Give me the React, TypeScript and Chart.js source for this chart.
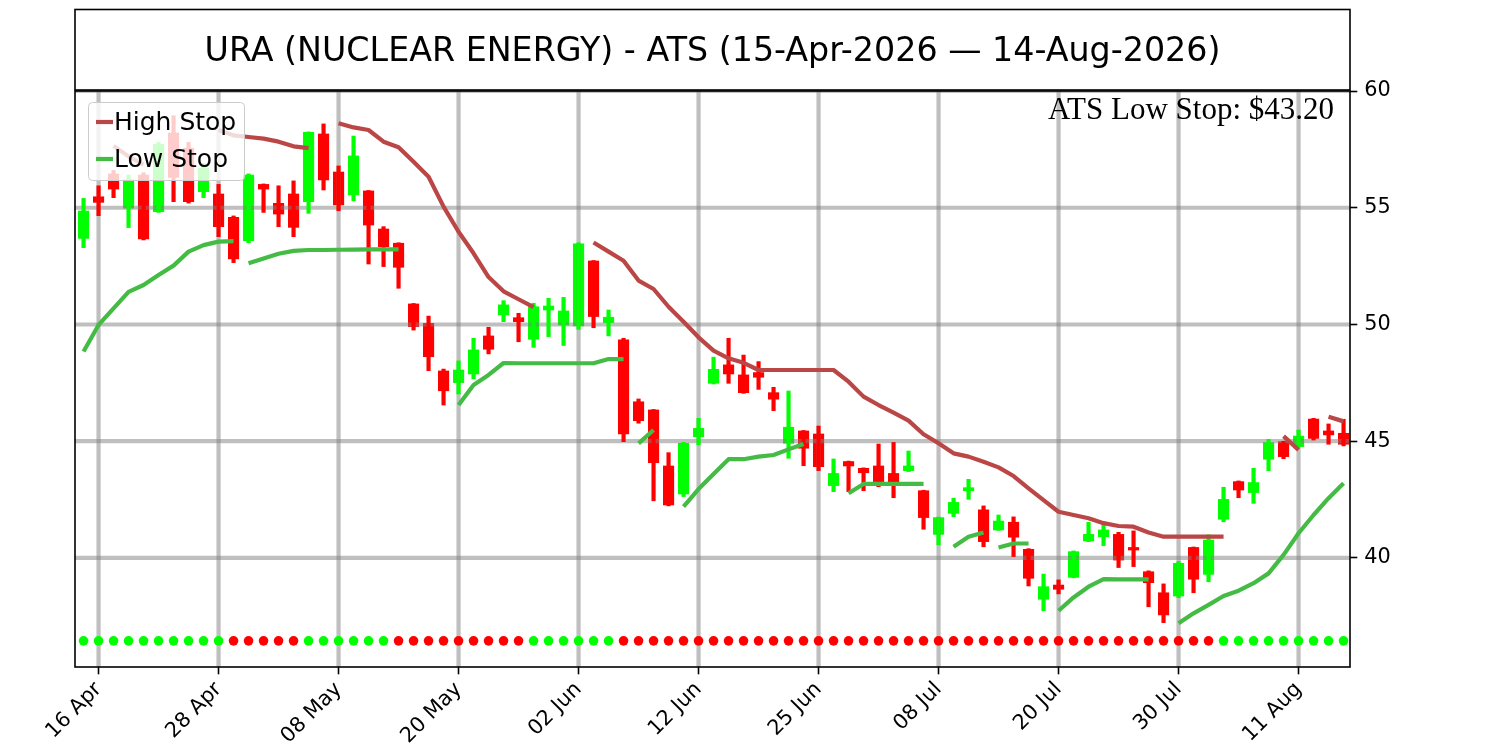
import { useEffect, useRef } from "react"
import { Chart, registerables } from "chart.js"

Chart.register(...registerables)
Chart.defaults.font.family = '"DejaVu Sans"'

const TITLE = "URA (NUCLEAR ENERGY) - ATS (15-Apr-2026 — 14-Aug-2026)"

// trading days, 15 Apr - 14 Aug 2026
const days = [
  "15 Apr", "16 Apr", "17 Apr", "20 Apr", "21 Apr", "22 Apr", "23 Apr", "24 Apr", "27 Apr", "28 Apr", "29 Apr", "30 Apr",
  "01 May", "04 May", "05 May", "06 May", "07 May", "08 May", "11 May", "12 May", "13 May", "14 May", "15 May", "18 May",
  "19 May", "20 May", "21 May", "22 May", "26 May", "27 May", "28 May", "29 May",
  "01 Jun", "02 Jun", "03 Jun", "04 Jun", "05 Jun", "08 Jun", "09 Jun", "10 Jun", "11 Jun", "12 Jun", "15 Jun", "16 Jun",
  "17 Jun", "18 Jun", "22 Jun", "23 Jun", "24 Jun", "25 Jun", "26 Jun", "29 Jun", "30 Jun",
  "01 Jul", "02 Jul", "06 Jul", "07 Jul", "08 Jul", "09 Jul", "10 Jul", "13 Jul", "14 Jul", "15 Jul", "16 Jul", "17 Jul",
  "20 Jul", "21 Jul", "22 Jul", "23 Jul", "24 Jul", "27 Jul", "28 Jul", "29 Jul", "30 Jul", "31 Jul",
  "03 Aug", "04 Aug", "05 Aug", "06 Aug", "07 Aug", "10 Aug", "11 Aug", "12 Aug", "13 Aug", "14 Aug",
]

// positions (in days) that carry a date label
const tickDays = [1, 9, 17, 25, 33, 41, 49, 57, 65, 73, 81]
const priceTicks = [40, 45, 50, 55, 60]

const open = [
  53.69, 55.47, 56.45, 54.98, 56.4, 54.83, 58.2, 57.55, 55.69, 55.59,
  54.59, 53.59, 56.0, 55.19, 55.59, 55.26, 58.16, 56.53, 55.55, 55.72,
  54.09, 53.48, 50.88, 50.05, 48.01, 47.51, 47.88, 49.51, 50.41, 50.29,
  49.37, 50.62, 49.98, 49.94, 52.72, 50.08, 49.34, 46.69, 46.34, 43.94,
  42.74, 45.19, 47.48, 48.27, 47.84, 47.94, 47.08, 44.91, 45.44, 45.31,
  43.1, 44.13, 43.84, 43.94, 43.62, 43.74, 42.88, 41.01, 41.91, 42.88,
  42.06, 41.2, 41.53, 40.37, 38.23, 38.84, 39.17, 40.73, 40.91, 41.01,
  40.45, 39.41, 38.51, 38.37, 40.45, 39.3, 41.66, 43.27, 42.8, 44.23,
  44.98, 44.77, 45.95, 45.44, 45.34,
]
const high = [
  55.4, 55.94, 56.6, 56.4, 56.5, 57.8, 58.94, 57.8, 56.9, 56.0,
  54.65, 56.45, 56.02, 55.94, 56.15, 58.25, 58.59, 56.79, 58.07, 55.74,
  54.19, 53.5, 50.9, 50.36, 48.09, 48.44, 49.41, 49.88, 51.02, 50.48,
  50.91, 51.12, 51.16, 53.5, 52.74, 50.62, 49.41, 46.81, 46.36, 44.51,
  44.95, 45.98, 48.6, 49.41, 48.69, 48.41, 47.31, 47.15, 45.46, 45.65,
  44.24, 44.15, 43.86, 44.88, 44.95, 44.58, 42.9, 41.75, 42.56, 43.37,
  42.23, 41.84, 41.76, 40.4, 39.31, 39.06, 40.3, 41.53, 41.46, 41.1,
  41.16, 39.45, 38.89, 39.85, 40.47, 40.99, 43.03, 43.3, 43.84, 45.08,
  45.0, 45.48, 45.98, 45.74, 45.94,
]
const low = [
  53.29, 54.66, 55.43, 54.15, 53.62, 54.8, 55.26, 55.2, 55.43, 53.76,
  52.65, 53.5, 54.8, 54.19, 53.76, 54.76, 55.76, 54.87, 55.3, 52.59,
  52.48, 51.55, 49.76, 48.02, 46.55, 47.02, 47.67, 48.74, 50.12, 49.26,
  49.02, 49.48, 49.1, 49.79, 49.86, 49.51, 44.98, 45.77, 42.45, 42.23,
  42.63, 44.84, 47.45, 47.48, 47.05, 47.22, 46.31, 44.27, 43.95, 43.74,
  42.84, 42.84, 42.88, 43.05, 42.58, 43.7, 41.23, 40.56, 41.77, 42.51,
  40.48, 41.18, 40.06, 38.8, 37.74, 38.46, 39.15, 40.7, 40.53, 39.59,
  39.63, 37.91, 37.23, 38.3, 38.51, 38.98, 41.55, 42.58, 42.34, 43.74,
  44.25, 44.75, 45.05, 44.87, 44.8,
]
const close = [
  54.86, 55.23, 55.8, 56.2, 53.66, 57.72, 56.3, 55.26, 56.69, 54.19,
  52.81, 56.4, 55.8, 54.73, 54.16, 58.23, 56.19, 55.12, 57.22, 54.26,
  53.33, 52.45, 49.91, 48.62, 47.16, 48.05, 48.91, 48.94, 50.84, 50.12,
  50.76, 50.79, 50.58, 53.45, 50.34, 50.31, 45.31, 45.88, 44.08, 42.27,
  44.91, 45.55, 48.08, 47.88, 47.08, 47.74, 46.8, 45.6, 44.7, 43.91,
  43.62, 43.94, 43.65, 43.27, 43.2, 43.94, 41.73, 41.73, 42.38, 43.01,
  40.7, 41.58, 40.89, 39.13, 38.77, 38.66, 40.27, 41.01, 41.2, 39.91,
  40.34, 38.94, 37.56, 39.77, 39.09, 40.77, 42.51, 42.91, 43.23, 44.94,
  44.34, 45.22, 45.12, 45.27, 44.87,
]

const highStop = [
  null, null, 57.65, 57.2, 56.85, null, null, null, null, 58.33,
  58.1, 58.03, 57.96, 57.83, 57.63, 57.55, null, 58.62, 58.44, 58.33,
  57.83, 57.59, 56.97, 56.33, 55.05, 53.97, 53.05, 52.03, 51.42, 51.08,
  50.74, null, null, null, 53.51, 53.12, 52.73, 51.88, 51.52, 50.76,
  50.12, 49.45, 48.88, 48.55, 48.36, 48.05, 48.05, 48.05, 48.05, 48.05,
  48.05, 47.55, 46.91, 46.55, 46.22, 45.88, 45.3, 44.91, 44.48, 44.34,
  44.12, 43.88, 43.51, 42.98, 42.48, 41.98, 41.84, 41.7, 41.49, 41.37,
  41.34, 41.09, 40.91, 40.91, 40.91, 40.91, 40.91, null, null, null,
  45.22, 44.63, null, 46.05, 45.85,
]
const lowStop = [
  48.84, 49.98, 50.69, 51.4, 51.69, 52.12, 52.52, 53.12, 53.4, 53.55,
  53.57, 52.62, 52.83, 53.03, 53.15, 53.19, 53.19, 53.2, 53.21, 53.22,
  53.22, 53.22, null, null, null, 46.55, 47.41, 47.84, 48.35, 48.34,
  48.34, 48.34, 48.34, 48.34, 48.34, 48.52, 48.52, 44.91, 45.48, null,
  42.2, 42.95, 43.6, 44.23, 44.23, 44.34, 44.41, 44.65, 44.88, null,
  null, 42.77, 43.17, 43.17, 43.17, 43.17, 43.17, null, 40.48, 40.91,
  41.09, 40.45, 40.62, 40.62, null, 37.74, 38.31, 38.77, 39.09, 39.08,
  39.08, 39.08, null, 37.2, 37.63, 37.99, 38.37, 38.6, 38.92, 39.34,
  40.13, 41.06, 41.84, 42.56, 43.2,
]
// a new low-stop segment starts on these days (no line joins them to the day before)
const lowStopBreaks = [11, 37, 61]

// 1 = up trend (green dot), -1 = down trend (red dot)
const trend = [
  1, 1, 1, 1, 1, 1, 1, 1, 1, 1,
  -1, -1, -1, -1, -1, 1, 1, 1, 1, 1,
  1, -1, -1, -1, -1, -1, -1, -1, -1, -1,
  1, 1, 1, 1, 1, 1, -1, -1, -1, -1,
  -1, -1, -1, -1, -1, -1, -1, -1, -1, -1,
  -1, -1, -1, -1, -1, -1, -1, -1, -1, -1,
  -1, -1, -1, -1, -1, -1, -1, -1, -1, -1,
  -1, -1, -1, -1, -1, -1, 1, 1, 1, 1,
  1, 1, 1, 1, 1,
]

const UP = "#00ff00"
const DOWN = "#ff0000"
const HIGH_COLOR = "#bb4646"
const LOW_COLOR = "#44bb44"
const DOT_ROW = 36.45

const linePoints = (values: (number | null)[], breaks: number[] = []) => {
  const pts: { x: number; y: number | null }[] = []
  values.forEach((v, i) => {
    if (breaks.includes(i)) pts.push({ x: i - 0.5, y: null })
    pts.push({ x: i, y: v })
  })
  return pts
}

const decor = {
  id: "decor",
  // grid sits above the candle bodies but under wicks, lines and dots
  afterDatasetDraw(chart: any, args: any) {
    if (args.index !== 0) return
    const { ctx, chartArea: a, scales } = chart
    ctx.save()
    ctx.beginPath()
    ctx.rect(a.left, a.top, a.width, a.height)
    ctx.clip()
    ctx.strokeStyle = "rgba(128,128,128,0.5)"
    ctx.lineWidth = 4.2
    for (const d of tickDays) {
      const x = scales.x.getPixelForValue(d)
      ctx.beginPath()
      ctx.moveTo(x, a.top)
      ctx.lineTo(x, a.bottom)
      ctx.stroke()
    }
    for (const v of priceTicks) {
      const y = scales.y.getPixelForValue(v)
      ctx.beginPath()
      ctx.moveTo(a.left, y)
      ctx.lineTo(a.right, y)
      ctx.stroke()
    }
    ctx.restore()
  },
  afterDraw(chart: any) {
    const { ctx, chartArea: a } = chart
    ctx.save()
    ctx.strokeStyle = "#000"
    ctx.lineWidth = 1.6
    ctx.strokeRect(a.left, a.top, a.width, a.height)
    ctx.strokeRect(a.left, 9.5, a.width, 80.5)

    ctx.fillStyle = "#000"
    ctx.font = '33.3px "DejaVu Sans"'
    ctx.textAlign = "center"
    ctx.textBaseline = "alphabetic"
    ctx.fillText(TITLE, (a.left + a.right) / 2, 61)

    ctx.font = '31px "Liberation Serif"'
    ctx.textAlign = "right"
    ctx.fillText(`ATS Low Stop: $${(lowStop[lowStop.length - 1] as number).toFixed(2)}`, a.right - 16, 119)

    // legend
    ctx.fillStyle = "rgba(255,255,255,0.8)"
    ctx.strokeStyle = "#cccccc"
    ctx.lineWidth = 1
    ctx.beginPath()
    ctx.roundRect(88.5, 102.5, 156, 78, 4)
    ctx.fill()
    ctx.stroke()
    const entries = [
      { label: "High Stop", color: HIGH_COLOR, y: 122 },
      { label: "Low Stop", color: LOW_COLOR, y: 159 },
    ]
    ctx.font = '25px "DejaVu Sans"'
    ctx.textAlign = "left"
    ctx.textBaseline = "middle"
    for (const e of entries) {
      ctx.strokeStyle = e.color
      ctx.lineWidth = 4.2
      ctx.beginPath()
      ctx.moveTo(96, e.y)
      ctx.lineTo(113, e.y)
      ctx.stroke()
      ctx.fillStyle = "#000"
      ctx.fillText(e.label, 114, e.y + 1)
    }
    ctx.restore()
  },
}

export default function App() {
  const canvasRef = useRef<HTMLCanvasElement>(null)
  const chartRef = useRef<Chart | null>(null)

  useEffect(() => {
    if (!canvasRef.current) return
    if (chartRef.current) chartRef.current.destroy()

    const idx = days.map((_, i) => i)
    const candleColors = idx.map((i) => (close[i] >= open[i] ? UP : DOWN))

    chartRef.current = new Chart(canvasRef.current, {
      type: "bar",
      data: {
        datasets: [
          {
            type: "bar",
            label: "body",
            data: idx.map((i) => ({ x: i, y: [open[i], close[i]] })),
            backgroundColor: candleColors,
            borderWidth: 0,
            barThickness: 10.5,
            grouped: false,
            order: 5,
          },
          {
            type: "bar",
            label: "wick",
            data: idx.map((i) => ({ x: i, y: [low[i], high[i]] })),
            backgroundColor: candleColors,
            borderWidth: 0,
            barThickness: 3.5,
            grouped: false,
            order: 4,
          },
          {
            type: "line",
            label: "Low Stop",
            data: linePoints(lowStop, lowStopBreaks),
            borderColor: LOW_COLOR,
            borderWidth: 4.2,
            pointRadius: 0,
            spanGaps: false,
            borderJoinStyle: "round",
            order: 3,
          },
          {
            type: "line",
            label: "High Stop",
            data: linePoints(highStop),
            borderColor: HIGH_COLOR,
            borderWidth: 4.2,
            pointRadius: 0,
            spanGaps: false,
            borderJoinStyle: "round",
            order: 2,
          },
          {
            type: "line",
            label: "trend",
            data: idx.map((i) => ({ x: i, y: DOT_ROW })),
            showLine: false,
            pointRadius: 4.8,
            pointBorderWidth: 0,
            pointBackgroundColor: trend.map((t) => (t > 0 ? UP : DOWN)),
            order: 1,
          },
        ] as any,
      },
      options: {
        animation: false,
        responsive: false,
        devicePixelRatio: 1,
        events: [],
        layout: { padding: { left: 75, top: 91, right: 0, bottom: 0 } },
        plugins: {
          legend: { display: false },
          tooltip: { enabled: false },
        },
        scales: {
          x: {
            type: "linear",
            min: -0.57,
            max: 84.43,
            offset: false,
            afterBuildTicks: (s: any) => {
              s.ticks = tickDays.map((v) => ({ value: v }))
            },
            afterFit: (s: any) => {
              s.height = 83
            },
            ticks: {
              autoSkip: false,
              minRotation: 45,
              maxRotation: 45,
              color: "#000",
              font: { size: 20.8 },
              padding: 3,
              callback: (v: any) => days[v],
            },
            grid: { drawOnChartArea: false, offset: false, tickLength: 7.3, tickColor: "#000", tickWidth: 1.6 },
            border: { display: false },
          },
          y: {
            type: "linear",
            position: "right",
            min: 35.33,
            max: 60,
            afterBuildTicks: (s: any) => {
              s.ticks = priceTicks.map((v) => ({ value: v }))
            },
            afterFit: (s: any) => {
              s.width = 150
            },
            ticks: { color: "#000", font: { size: 20.8 }, padding: 7 },
            grid: { drawOnChartArea: false, tickLength: 7.3, tickColor: "#000", tickWidth: 1.6 },
            border: { display: false },
          },
        },
      } as any,
      plugins: [decor],
    })

    return () => {
      if (chartRef.current) {
        chartRef.current.destroy()
        chartRef.current = null
      }
    }
  }, [])

  return (
    <div style={{ position: "absolute", left: 0, top: 0, width: 1500, height: 750, background: "#fff" }}>
      <canvas ref={canvasRef} width={1500} height={750} style={{ display: "block", width: 1500, height: 750 }} />
    </div>
  )
}
